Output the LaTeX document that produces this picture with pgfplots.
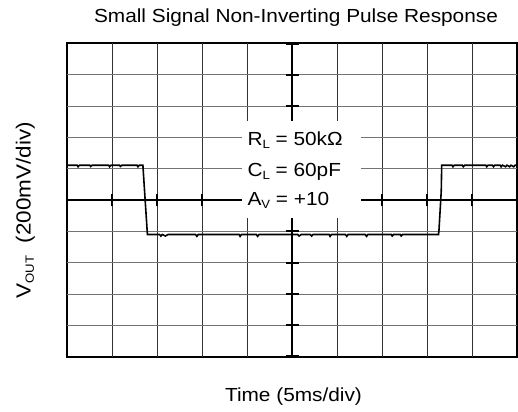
\documentclass[border=0pt]{standalone}
\usepackage{pgfplots}
\pgfplotsset{compat=1.18}
\usepackage{fontspec}
\setmainfont{Liberation Sans}[FakeStretch=1.1]
\newcommand{\sub}[1]{\raisebox{-0.3ex}{\fontsize{12}{12}\selectfont #1}}
\begin{document}
\begin{tikzpicture}
\useasboundingbox (0,0) rectangle (518bp,412bp);
\begin{axis}[
  at={(67.3bp,55.3bp)}, anchor=south west,
  width=450bp, height=313.4bp, scale only axis,
  xmin=0, xmax=10, ymin=-5, ymax=5,
  xtick=\empty, ytick=\empty,
  axis line style={line width=1.8bp},
  clip=false,
]
% grid
\pgfplotsinvokeforeach{1,...,9}{
  \draw[black!80, line width=0.9bp] (axis cs:#1,-5) -- (axis cs:#1,5);
}
\pgfplotsinvokeforeach{-4,...,4}{
  \draw[black!55, line width=0.9bp] (axis cs:0,#1) -- (axis cs:10,#1);
}
% centre crosshair
\draw[line width=1.8bp] (axis cs:0,0) -- (axis cs:10,0);
\draw[line width=1.8bp] (axis cs:5,-5) -- (axis cs:5,5);
\draw[line width=1.8bp]
  (axis cs:1,-0.2) -- (axis cs:1,0.2)
  (axis cs:2,-0.2) -- (axis cs:2,0.2)
  (axis cs:3,-0.2) -- (axis cs:3,0.2)
  (axis cs:4,-0.2) -- (axis cs:4,0.2)
  (axis cs:6,-0.2) -- (axis cs:6,0.2)
  (axis cs:7,-0.2) -- (axis cs:7,0.2)
  (axis cs:8,-0.2) -- (axis cs:8,0.2)
  (axis cs:9,-0.2) -- (axis cs:9,0.2)
  (axis cs:4.85,4) -- (axis cs:5.15,4)
  (axis cs:4.85,3) -- (axis cs:5.15,3)
  (axis cs:4.85,2) -- (axis cs:5.15,2)
  (axis cs:4.85,1) -- (axis cs:5.15,1)
  (axis cs:4.85,-1) -- (axis cs:5.15,-1)
  (axis cs:4.85,-2) -- (axis cs:5.15,-2)
  (axis cs:4.85,-3) -- (axis cs:5.15,-3)
  (axis cs:4.85,-4) -- (axis cs:5.15,-4)
  (axis cs:4.85,4.97) -- (axis cs:5.15,4.97)
  (axis cs:4.85,-4.97) -- (axis cs:5.15,-4.97);
% trace
\addplot[black, line width=1.6bp, mark=none] coordinates {
(0,1.11) (0.22,1.11) (0.24,1.06) (0.27,1.11) (0.50,1.11) (0.52,1.07) (0.55,1.11)
(0.92,1.11) (0.94,1.06) (0.97,1.11) (1.16,1.11) (1.18,1.07) (1.21,1.11)
(1.55,1.11) (1.57,1.06) (1.60,1.11) (1.68,1.11)
(1.70,0.66) (1.78,-1.10)
(2.05,-1.10) (2.08,-1.15) (2.11,-1.10) (2.18,-1.15) (2.24,-1.10)
(2.85,-1.10) (2.88,-1.16) (2.91,-1.10)
(3.82,-1.10) (3.84,-1.16) (3.87,-1.10)
(4.20,-1.10) (4.23,-1.16) (4.26,-1.10)
(5.12,-1.10) (5.15,-1.15) (5.20,-1.10) (5.40,-1.10) (5.43,-1.15) (5.46,-1.10)
(5.82,-1.10) (5.84,-1.16) (5.87,-1.10)
(6.18,-1.10) (6.21,-1.16) (6.24,-1.10)
(6.62,-1.10) (6.65,-1.16) (6.68,-1.10)
(7.20,-1.10) (7.22,-1.15) (7.25,-1.10) (7.40,-1.10) (7.42,-1.15) (7.45,-1.10)
(8.25,-1.10)
(8.26,-0.95) (8.31,0.28) (8.32,1.11)
(8.55,1.11) (8.57,1.06) (8.60,1.11) (8.78,1.11) (8.80,1.06) (8.83,1.11)
(9.30,1.11) (9.32,1.06) (9.35,1.11) (9.45,1.11) (9.47,1.06) (9.50,1.11)
(9.62,1.11) (9.64,1.06) (9.67,1.11) (9.74,1.06) (9.77,1.11) (9.83,1.06)
(9.86,1.11) (9.92,1.06) (9.95,1.11) (10,1.11)
};
% label box
\fill[white] (axis cs:3.88,-0.59) rectangle (axis cs:6.53,2.53);
\node[anchor=base west, font=\fontsize{19}{22}\selectfont, inner sep=0pt] at (axis cs:4.0,1.74) {R\sub{L} = 50kΩ};
\node[anchor=base west, font=\fontsize{19}{22}\selectfont, inner sep=0pt] at (axis cs:4.0,0.76) {C\sub{L} = 60pF};
\node[anchor=base west, font=\fontsize{19}{22}\selectfont, inner sep=0pt] at (axis cs:4.0,-0.18) {A\sub{V} = +10};
\end{axis}
\node[anchor=base, font=\fontsize{19}{22}\selectfont, inner sep=0pt] at (296bp,389bp) {Small Signal Non-Inverting Pulse Response};
\node[anchor=base, font=\fontsize{19}{22}\selectfont, inner sep=0pt] at (293.5bp,10.3bp) {Time (5ms/div)};
\node[anchor=base, rotate=90, font=\fontsize{20.5}{24}\selectfont, inner sep=0pt] at (30.7bp,201.7bp) {V\sub{OUT}\ \ (200mV/div)};
\end{tikzpicture}
\end{document}
